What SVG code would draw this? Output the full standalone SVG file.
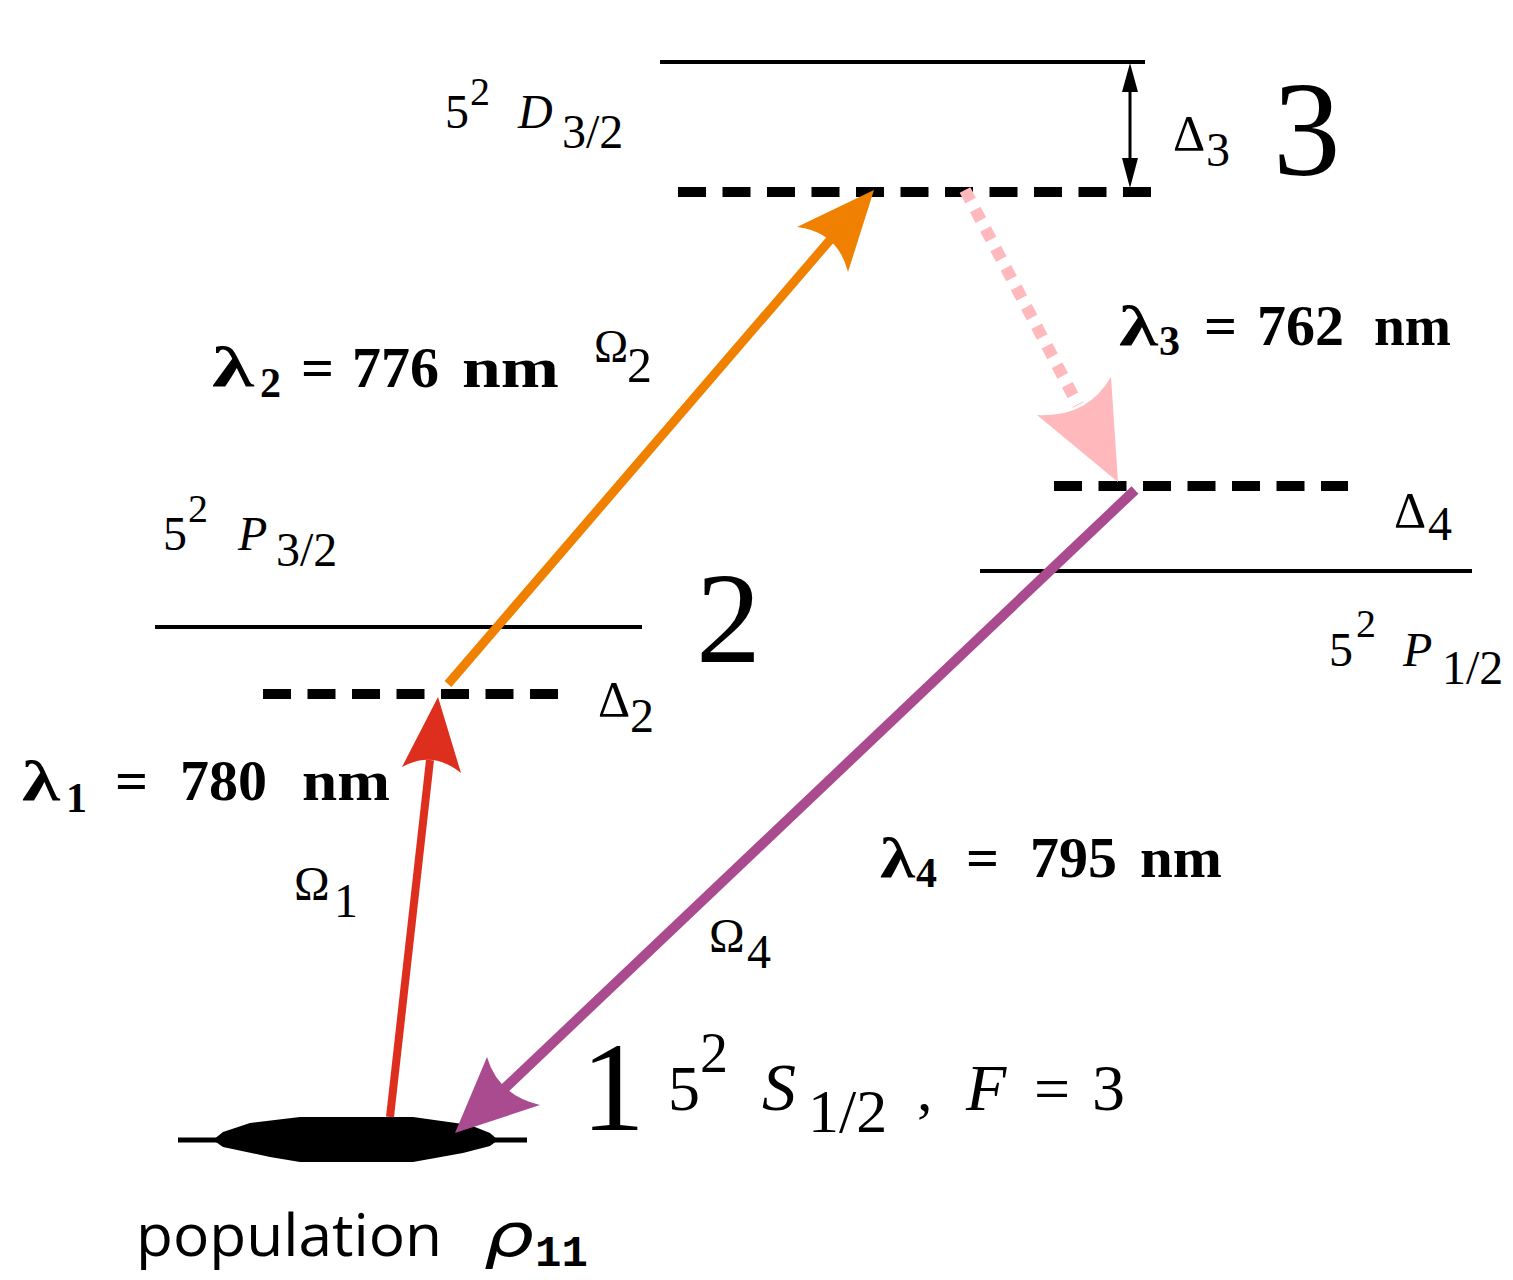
<svg xmlns="http://www.w3.org/2000/svg" width="1513" height="1280" viewBox="0 0 1513 1280">
<style>
.s{font-family:"Liberation Serif","Times New Roman",serif;fill:#000}
.i{font-style:italic}
.b{font-weight:bold}
.lvl{stroke:#000;stroke-width:4;fill:none}
.dash{stroke:#000;stroke-width:10;stroke-dasharray:28 16.5;fill:none}
</style>
<rect width="1513" height="1280" fill="#fff"/>
<g id="level3">
<line class="lvl" x1="660" y1="62" x2="1145" y2="62"/>
<line class="dash" x1="678" y1="192" x2="1156" y2="192"/>
<text class="s" font-size="48" x="445" y="128">5</text>
<text class="s" font-size="40" x="470" y="105">2</text>
<text class="s i" font-size="48" x="518" y="128">D</text>
<text class="s" font-size="48" x="562" y="148">3/2</text>
<text class="s" font-size="135" x="1273" y="175">3</text>
<text class="s" font-size="50" x="1173" y="150">Δ</text>
<text class="s" font-size="48" x="1206" y="166">3</text>
</g>
<g id="level2">
<line class="lvl" x1="155" y1="627" x2="642" y2="627"/>
<line class="dash" x1="263" y1="694" x2="563" y2="694"/>
<text class="s" font-size="48" x="163" y="550">5</text>
<text class="s" font-size="40" x="188" y="522">2</text>
<text class="s i" font-size="48" x="238" y="550">P</text>
<text class="s" font-size="48" x="276" y="566">3/2</text>
<text class="s" font-size="130" x="696" y="662">2</text>
<text class="s" font-size="50" x="598" y="716">Δ</text>
<text class="s" font-size="48" x="630" y="732">2</text>
</g>
<g id="level4">
<line class="dash" x1="1054" y1="486" x2="1348" y2="486"/>
<line class="lvl" x1="980" y1="571" x2="1472" y2="571"/>
<text class="s" font-size="50" x="1394" y="527">Δ</text>
<text class="s" font-size="48" x="1428" y="540">4</text>
<text class="s" font-size="48" x="1329" y="666">5</text>
<text class="s" font-size="40" x="1356" y="637">2</text>
<text class="s i" font-size="48" x="1403" y="666">P</text>
<text class="s" font-size="48" x="1442" y="684">1/2</text>
</g>
<g id="level1">
<line x1="178" y1="1140" x2="527" y2="1140" stroke="#000" stroke-width="5"/>
<polygon points="213,1140 223,1132 250,1123 300,1117 413,1117 470,1125 490,1133 498,1140 490,1146 463,1153 413,1162 300,1162 270,1157 223,1147" fill="#000"/>
<text class="s" font-size="128" x="581" y="1130">1</text>
<text class="s" font-size="64" x="668" y="1110">5</text>
<text class="s" font-size="56" x="700" y="1072">2</text>
<text class="s i" font-size="68" x="762" y="1110">S</text>
<text class="s" font-size="62" x="808" y="1132">1/2</text>
<text class="s" font-size="62" x="917" y="1110">,</text>
<text class="s i" font-size="66" x="966" y="1110">F</text>
<text class="s" font-size="64" x="1034" y="1110">=</text>
<text class="s" font-size="66" x="1092" y="1110">3</text>
<text font-family="'Open Sans','Noto Sans',sans-serif" font-size="58" x="136" y="1256" textLength="306" lengthAdjust="spacingAndGlyphs">population</text>
<text font-family="'DejaVu Sans',sans-serif" font-style="italic" font-size="60" x="484" y="1256" textLength="50" lengthAdjust="spacingAndGlyphs">ρ</text>
<text font-family="'Liberation Mono','Courier New',monospace" font-weight="bold" font-size="44" x="535" y="1266">11</text>
</g>
<g id="connectors">
<line x1="390" y1="1117" x2="430" y2="760" stroke="#DE2E1E" stroke-width="8"/>
<path d="M438,697 L461,773 Q433,750 402,767 Z" fill="#DE2E1E"/>
<line x1="448" y1="684" x2="830" y2="240" stroke="#F08000" stroke-width="9"/>
<path d="M874,190 L848,272 Q838,232 797,227 Z" fill="#F08000"/>
<line x1="965" y1="190" x2="1078" y2="405" stroke="#FFB8BC" stroke-width="12" stroke-dasharray="12 10"/>
<path d="M1118,482 L1037,415 Q1087,418 1111,377 Z" fill="#FFB8BC"/>
<line x1="1135" y1="490" x2="505" y2="1088" stroke="#AA4B8F" stroke-width="10"/>
<path d="M455,1133 L487,1057 Q498,1095 540,1105 Z" fill="#AA4B8F"/>
<line x1="1130" y1="88" x2="1130" y2="162" stroke="#000" stroke-width="3"/>
<path d="M1130,63 L1138,92 L1122,92 Z M1130,188 L1138,158 L1122,158 Z" fill="#000"/>
</g>
<g id="labels">
<text class="s b" font-size="58" x="22" y="800" textLength="38" lengthAdjust="spacingAndGlyphs">λ</text>
<text class="s b" font-size="42" x="66" y="812">1</text>
<text class="s b" font-size="58" x="115" y="800">=</text>
<text class="s b" font-size="58" x="180" y="800">780</text>
<text class="s b" font-size="58" x="302" y="800" textLength="88" lengthAdjust="spacingAndGlyphs">nm</text>
<text class="s" font-size="48" x="294" y="900">Ω</text>
<text class="s" font-size="48" x="334" y="917">1</text>
<text class="s b" font-size="58" x="212" y="386" textLength="42" lengthAdjust="spacingAndGlyphs">λ</text>
<text class="s b" font-size="42" x="260" y="397">2</text>
<text class="s b" font-size="58" x="301" y="387">=</text>
<text class="s b" font-size="58" x="352" y="387">776</text>
<text class="s b" font-size="58" x="462" y="387" textLength="97" lengthAdjust="spacingAndGlyphs">nm</text>
<text class="s" font-size="46" x="594" y="362">Ω</text>
<text class="s" font-size="50" x="627" y="382">2</text>
<text class="s b" font-size="58" x="1119" y="345" textLength="39" lengthAdjust="spacingAndGlyphs">λ</text>
<text class="s b" font-size="42" x="1159" y="355">3</text>
<text class="s b" font-size="58" x="1204" y="345">=</text>
<text class="s b" font-size="58" x="1257" y="345">762</text>
<text class="s b" font-size="58" x="1374" y="345" textLength="77" lengthAdjust="spacingAndGlyphs">nm</text>
<text class="s b" font-size="58" x="880" y="877" textLength="35" lengthAdjust="spacingAndGlyphs">λ</text>
<text class="s b" font-size="42" x="916" y="887">4</text>
<text class="s b" font-size="58" x="966" y="877">=</text>
<text class="s b" font-size="58" x="1030" y="877">795</text>
<text class="s b" font-size="58" x="1140" y="877" textLength="82" lengthAdjust="spacingAndGlyphs">nm</text>
<text class="s" font-size="48" x="709" y="952">Ω</text>
<text class="s" font-size="48" x="747" y="968">4</text>
</g>
</svg>
